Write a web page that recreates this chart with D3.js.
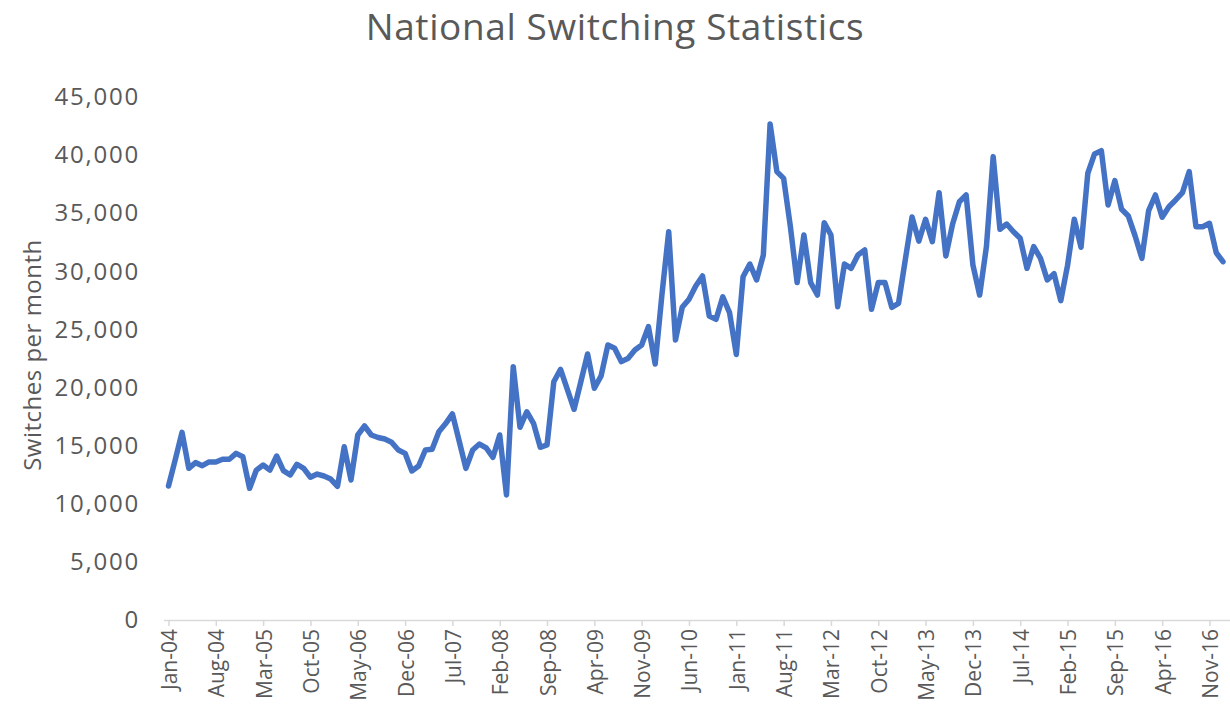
<!DOCTYPE html>
<html>
<head>
<meta charset="utf-8">
<script src="https://cdn.jsdelivr.net/npm/d3@7"></script>
<style>
  html, body { margin: 0; padding: 0; background: #ffffff; }
  svg { display: block; }
</style>
</head>
<body>
<svg id="chart" width="1230" height="721"></svg>
<script>
// ---- data ----
const title = "National Switching Statistics";
const yTitle = "Switches per month";
const monthNames = ["Jan","Feb","Mar","Apr","May","Jun","Jul","Aug","Sep","Oct","Nov","Dec"];
const startYear = 2004;
const switches = [
  11530, 13800, 16150, 13050, 13540, 13280, 13600, 13600, 13830, 13830, 14340, 14050,
  11330, 12900, 13340, 12900, 14110, 12850, 12480, 13400, 13050, 12280, 12560, 12390,
  12130, 11500, 14910, 12050, 15920, 16690, 15920, 15700, 15570, 15300, 14630, 14340,
  12820, 13250, 14630, 14690, 16200, 16900, 17730, 15400, 13050, 14630, 15140, 14800,
  14000, 15920, 10760, 21800, 16580, 17920, 16920, 14860, 15060, 20500, 21570, 19850,
  18130, 20500, 22890, 19940, 21000, 23660, 23380, 22230, 22520, 23230, 23660, 25240,
  22030, 28000, 33410, 24090, 26900, 27600, 28740, 29600, 26160, 25870, 27800, 26450,
  22850, 29540, 30630, 29260, 31410, 42680, 38580, 38000, 33840, 29030, 33130, 29030,
  27960, 34190, 33130, 26960, 30630, 30260, 31410, 31840, 26730, 29030, 29030, 26900,
  27250, 31000, 34680, 32600, 34480, 32550, 36770, 31320, 34070, 35990, 36570, 30550,
  27960, 32120, 39870, 33620, 34070, 33410, 32840, 30260, 32120, 31120, 29260, 29800,
  27480, 30500, 34480, 32070, 38440, 40100, 40380, 35710, 37800, 35340, 34760, 33040,
  31120, 35220, 36570, 34650, 35560, 36140, 36770, 38580, 33840, 33840, 34130, 31600,
  30830
];
const categories = switches.map((_, i) =>
  monthNames[i % 12] + "-" + String((startYear + Math.floor(i / 12)) % 100).padStart(2, "0"));
const tickLabels = ["Jan-04","Aug-04","Mar-05","Oct-05","May-06","Dec-06","Jul-07","Feb-08",
  "Sep-08","Apr-09","Nov-09","Jun-10","Jan-11","Aug-11","Mar-12","Oct-12","May-13","Dec-13",
  "Jul-14","Feb-15","Sep-15","Apr-16","Nov-16"];
const yTicks = [0, 5000, 10000, 15000, 20000, 25000, 30000, 35000, 40000, 45000];

// ---- layout ----
const svg = d3.select("#chart");
const textColor = "#595959";
const font = "'Open Sans', sans-serif";

const x = d3.scalePoint().domain(categories).range([168.5, 1223]);
const y = d3.scaleLinear().domain([0, 45000]).range([620, 97]);

// title
svg.append("text")
  .attr("x", 615).attr("y", 40)
  .attr("text-anchor", "middle")
  .attr("font-family", font).attr("font-size", 37)
  .attr("letter-spacing", 0.6)
  .attr("fill", textColor)
  .text(title);

// y axis (labels only)
const yAxis = svg.append("g").attr("transform", "translate(140,0)")
  .call(d3.axisLeft(y).tickValues(yTicks).tickSize(0).tickPadding(0)
    .tickFormat(d3.format(",")));
yAxis.select(".domain").remove();
yAxis.selectAll("text")
  .attr("font-family", font).attr("font-size", 24)
  .attr("fill", textColor)
  .attr("letter-spacing", 1.8);

// y title
svg.append("text")
  .attr("transform", "translate(41,355) rotate(-90)")
  .attr("text-anchor", "middle")
  .attr("font-family", font).attr("font-size", 24)
  .attr("letter-spacing", 0.5)
  .attr("fill", textColor)
  .text(yTitle);

// x axis
const xAxis = svg.append("g").attr("transform", "translate(0,620)")
  .call(d3.axisBottom(x)
    .tickValues(categories.filter(c => tickLabels.includes(c)))
    .tickSize(6).tickSizeOuter(0).tickPadding(8));
xAxis.select(".domain").attr("stroke", "#d9d9d9").attr("stroke-width", 1.5)
  .attr("d", "M164,0.5H1230");
xAxis.selectAll(".tick line").attr("stroke", "#d9d9d9").attr("stroke-width", 1.5);
xAxis.selectAll("text")
  .attr("font-family", font).attr("font-size", 21)
  .attr("fill", textColor)
  .attr("text-anchor", "end")
  .attr("dominant-baseline", "central")
  .attr("transform", "rotate(-90)")
  .attr("x", -9).attr("y", 0).attr("dy", null);

// line
const line = d3.line()
  .x((d, i) => x(categories[i]))
  .y(d => y(d));
svg.append("path")
  .datum(switches)
  .attr("fill", "none")
  .attr("stroke", "#4472C4")
  .attr("stroke-width", 5.5)
  .attr("stroke-linejoin", "round")
  .attr("stroke-linecap", "round")
  .attr("d", line);
</script>
</body>
</html>
